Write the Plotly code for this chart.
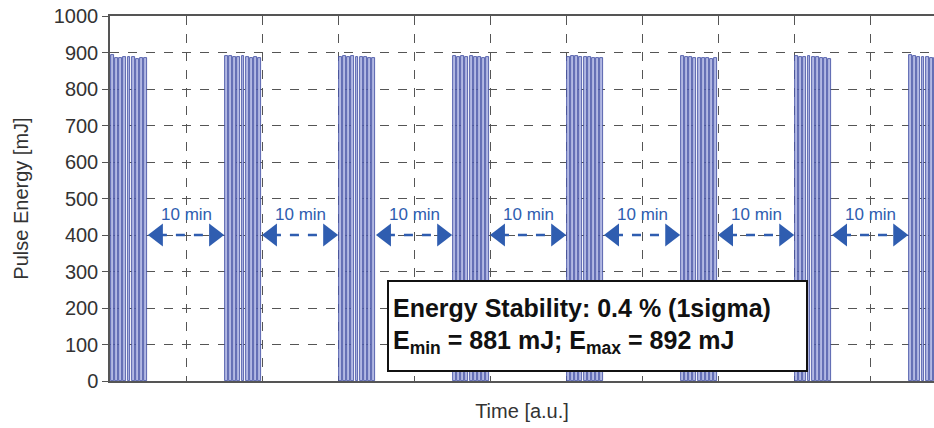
import plotly.graph_objects as go

# ---- data ----
cluster_starts = [0.03, 1.53, 3.03, 4.53, 6.03, 7.53, 9.03, 10.53]
pulse_offsets = [0.0, 0.055, 0.11, 0.165, 0.22, 0.275, 0.33, 0.385, 0.44]
pulse_energy = [
    [892, 886, 884, 888, 889, 887, 883, 885, 884],
    [891, 890, 889, 888, 890, 887, 886, 888, 885],
    [889, 890, 888, 891, 889, 887, 888, 886, 885],
    [890, 889, 891, 888, 890, 887, 889, 886, 887],
    [888, 890, 891, 889, 887, 888, 886, 885, 886],
    [890, 888, 887, 885, 886, 884, 885, 883, 886],
    [891, 889, 888, 890, 887, 888, 886, 885, 883],
    [892, 890, 887, 889, 888, 886, 885, 884, 881],
]
gap_start = [0.5, 2.0, 3.5, 5.0, 6.5, 8.0, 9.5]
gap_end = [1.5, 3.0, 4.5, 6.0, 7.5, 9.0, 10.5]
gap_label = "10 min"
arrow_level = 400
y_ticks = [0, 100, 200, 300, 400, 500, 600, 700, 800, 900, 1000]

FONT = "Liberation Sans, Arial, sans-serif"

fig = go.Figure()

xs, ys = [], []
for cs, vals in zip(cluster_starts, pulse_energy):
    for off, v in zip(pulse_offsets, vals):
        xs.append(cs + off)
        ys.append(v)

fig.add_trace(go.Bar(
    x=xs, y=ys, width=0.038,
    marker=dict(color="#b3b9e3", line=dict(color="#3a479e", width=0.8)),
    showlegend=False, hoverinfo="skip",
))

arrow_col = "#2f5db0"
head = 0.13
for a, b in zip(gap_start, gap_end):
    fig.add_trace(go.Scatter(
        x=[a + head, b - head], y=[arrow_level, arrow_level], mode="lines",
        line=dict(color=arrow_col, width=2.5, dash="dash"),
        showlegend=False, hoverinfo="skip",
    ))
    fig.add_trace(go.Scatter(
        x=[a + head, b - head], y=[arrow_level, arrow_level], mode="markers",
        marker=dict(symbol=["triangle-left", "triangle-right"], size=20, color=arrow_col),
        showlegend=False, hoverinfo="skip",
    ))
    fig.add_annotation(
        x=(a + b) / 2, y=arrow_level + 57, text=gap_label, showarrow=False,
        font=dict(family=FONT, size=17, color=arrow_col),
    )

fig.add_annotation(
    x=3.64, y=278, xanchor="left", yanchor="top",
    text="<b>Energy Stability: 0.4 % (1sigma)</b><br><b>E<sub>min</sub> = 881 mJ; E<sub>max</sub> = 892 mJ</b>",
    showarrow=False, align="left",
    font=dict(family=FONT, size=25, color="#111111"),
    bgcolor="white", bordercolor="#111111", borderwidth=2, borderpad=4,
    width=409, height=80,
)

fig.update_layout(
    width=934, height=428,
    margin=dict(l=110, r=0, t=16, b=47),
    paper_bgcolor="white", plot_bgcolor="white",
    bargap=0, showlegend=False,
    font=dict(family=FONT, color="#333333"),
)
fig.update_xaxes(
    range=[0, 10.84], dtick=1, tick0=0, showticklabels=False, ticks="",
    showgrid=True, gridcolor="#555555", griddash="dash", gridwidth=1,
    showline=True, linecolor="#555555", linewidth=1.5, mirror=True,
    zeroline=False, automargin=False,
    title=dict(text="Time [a.u.]", font=dict(size=20, color="#333333"), standoff=22),
)
fig.update_yaxes(
    range=[0, 1000], tickvals=y_ticks, ticks="outside", ticklen=6, tickcolor="#555555",
    tickfont=dict(size=20, color="#333333"),
    showgrid=True, gridcolor="#555555", griddash="dash", gridwidth=1,
    showline=True, linecolor="#555555", linewidth=1.5, mirror=True,
    zeroline=False, automargin=False,
    title=dict(text="Pulse Energy [mJ]", font=dict(size=20, color="#333333"), standoff=20),
)

fig.write_html("out.html", config={"displayModeBar": False},
               post_script="document.body.style.margin='0';")
